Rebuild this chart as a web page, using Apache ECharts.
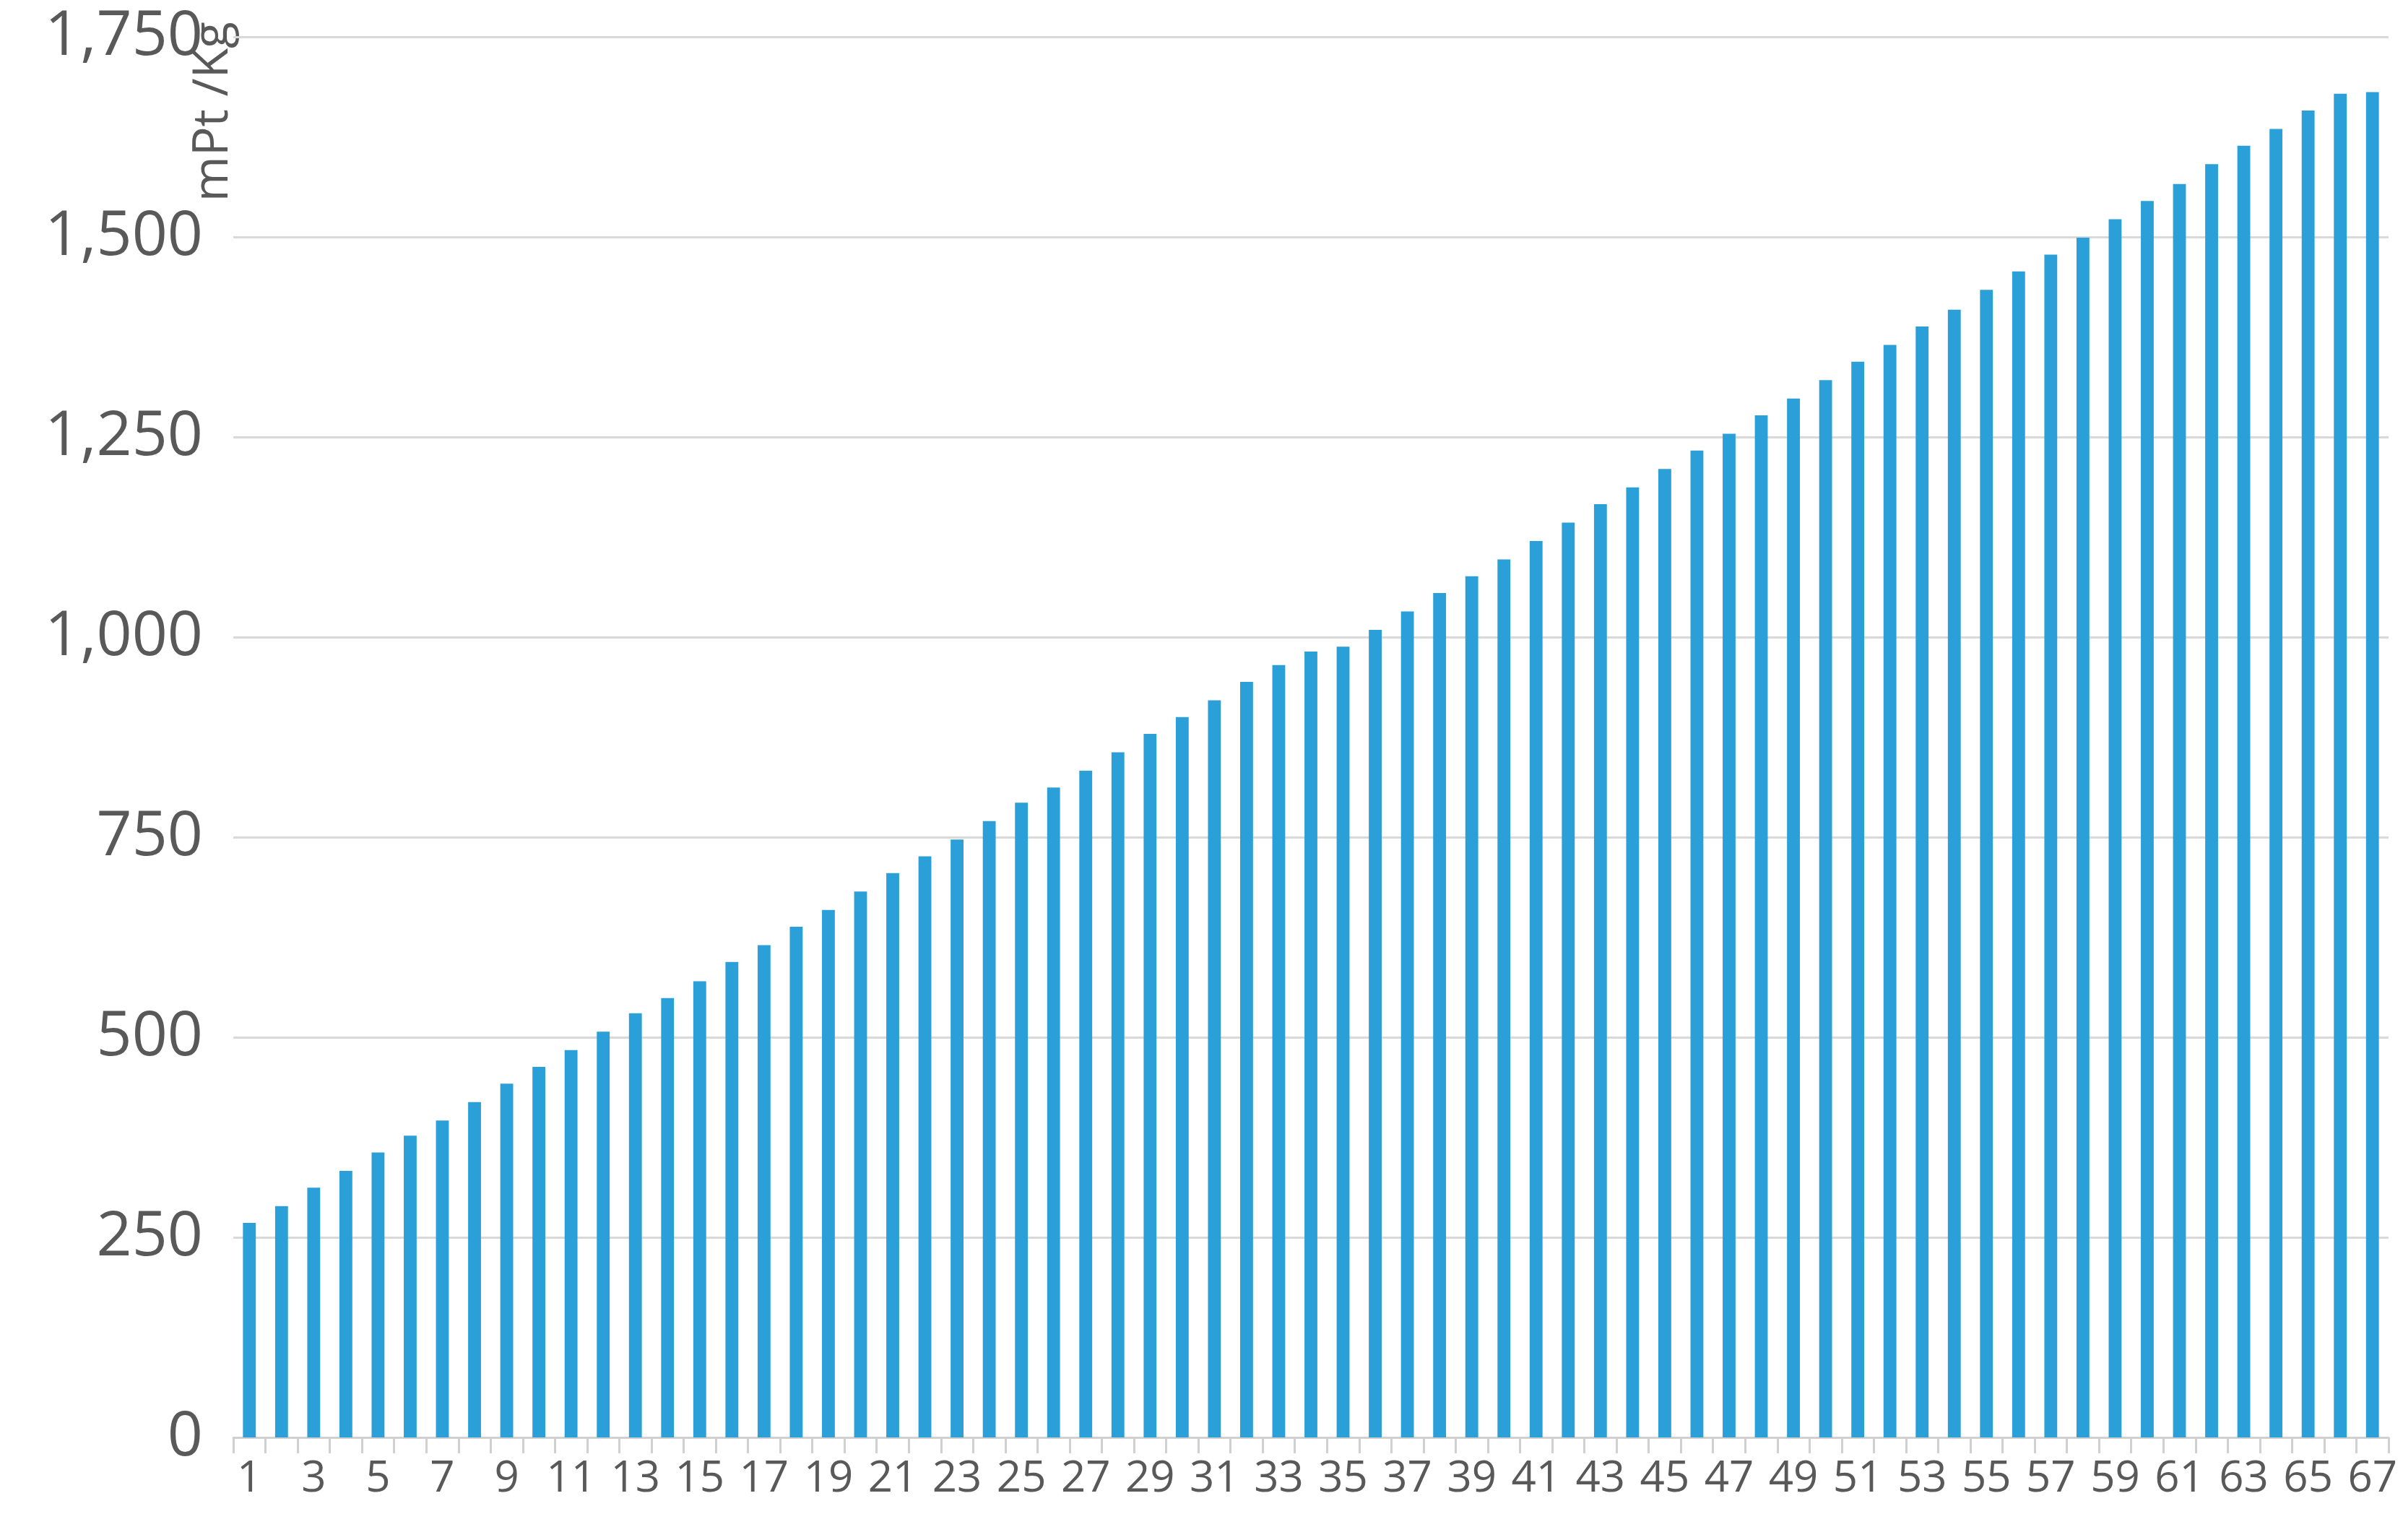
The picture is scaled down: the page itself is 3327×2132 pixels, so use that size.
<!DOCTYPE html>
<html>
<head>
<meta charset="utf-8">
<script src="https://cdn.jsdelivr.net/npm/echarts@6/dist/echarts.min.js"></script>
<style>html,body{margin:0;padding:0;background:#fff}#chart{width:3327px;height:2132px}</style>
</head>
<body>
<div id="chart"></div>
<script>
const categories = [];
for (let i = 1; i <= 67; i++) categories.push(String(i));
const values = [268, 289, 312, 333, 356, 377, 396, 419, 442, 463, 484, 507, 530, 549, 570, 594, 615, 638, 659, 682,
  705, 726, 747, 770, 793, 812, 833, 856, 879, 900, 921, 944, 965, 982, 988, 1009, 1032, 1055, 1076, 1097,
  1120, 1143, 1166, 1187, 1210, 1233, 1254, 1277, 1298, 1321, 1344, 1365, 1388, 1409, 1434, 1457, 1478, 1499, 1522, 1545,
  1566, 1591, 1614, 1635, 1658, 1679, 1681];
const unitLabel = 'mPt /Kg';

const chart = echarts.init(document.getElementById('chart'));
chart.setOption({
  animation: false,
  textStyle: { fontFamily: 'Open Sans' },
  grid: { left: 323, right: 20, top: 51, bottom: 142, containLabel: false },
  xAxis: {
    type: 'category',
    data: categories,
    axisLine: { lineStyle: { color: '#d0d0d0', width: 3 } },
    axisTick: { show: true, interval: 0, length: 22, lineStyle: { color: '#d0d0d0', width: 3 } },
    axisLabel: { interval: 1, color: '#595959', fontSize: 60, margin: 28 }
  },
  yAxis: {
    type: 'value',
    min: 0, max: 1750, interval: 250,
    axisLine: { show: false },
    axisTick: { show: false },
    splitLine: { lineStyle: { color: '#d9d9d9', width: 3 } },
    axisLabel: { color: '#595959', fontSize: 86, margin: 42 }
  },
  graphic: [{
    type: 'text',
    left: 262, top: 30,
    rotation: Math.PI / 2,
    style: { text: unitLabel, fontSize: 68, fill: '#595959', fontFamily: 'Open Sans' }
  }],
  series: [{
    type: 'bar',
    data: values,
    barWidth: '40%',
    itemStyle: { color: '#2A9FD8' }
  }]
});
</script>
</body>
</html>
